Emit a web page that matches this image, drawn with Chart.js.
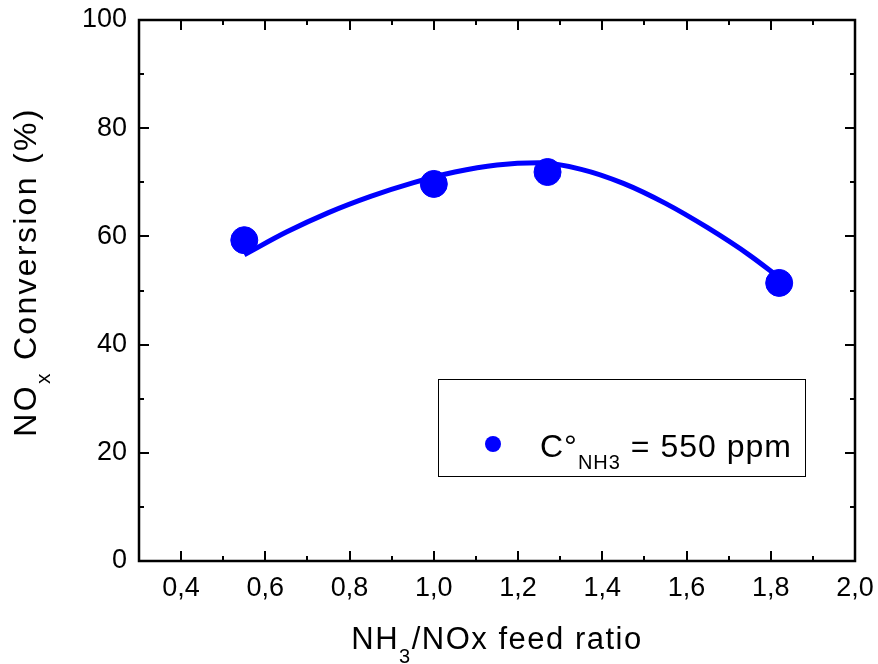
<!DOCTYPE html>
<html>
<head>
<meta charset="utf-8">
<script src="https://cdn.jsdelivr.net/npm/chart.js@4/dist/chart.umd.min.js"></script>
<style>
  html, body { margin: 0; padding: 0; background: #ffffff; }
  #wrap { width: 878px; height: 664px; }
</style>
</head>
<body>
<div id="wrap"><canvas id="chart" width="878" height="664"></canvas></div>
<script>
// Measured NOx conversion vs NH3/NOx feed ratio
const feedRatio = [0.55, 1.00, 1.27, 1.82];
const conversion = [59.3, 69.7, 71.9, 51.4];

// Trend curve through the measurements
const curveRatio = [0.55, 0.65, 0.75, 0.85, 0.95, 1.05, 1.15, 1.25, 1.35, 1.45, 1.55, 1.65, 1.75, 1.82];
const curveConversion = [56.6, 60.8, 64.4, 67.4, 69.9, 71.9, 73.2, 73.6, 72.4, 69.8, 66.1, 61.6, 56.5, 52.4];

// Axis ticks
const xTicks = [0.4, 0.6, 0.8, 1.0, 1.2, 1.4, 1.6, 1.8, 2.0];
const xMinorTicks = [0.5, 0.7, 0.9, 1.1, 1.3, 1.5, 1.7, 1.9];
const yTicks = [0, 20, 40, 60, 80, 100];
const yMinorTicks = [10, 30, 50, 70, 90];

const FONT = "'Liberation Sans', Arial, Helvetica, sans-serif";
const BLUE = '#0000ff';

// Draws a run of [text, font, baselineShift] pieces left to right
function drawRun(ctx, parts, x, y, spacing) {
  ctx.letterSpacing = spacing + 'px';
  parts.forEach(p => {
    ctx.font = p[1];
    ctx.fillText(p[0], x, y + p[2]);
    x += ctx.measureText(p[0]).width;
  });
  ctx.letterSpacing = '0px';
}
function runWidth(ctx, parts, spacing) {
  ctx.letterSpacing = spacing + 'px';
  let w = 0;
  parts.forEach(p => { ctx.font = p[1]; w += ctx.measureText(p[0]).width; });
  ctx.letterSpacing = '0px';
  return w;
}

// Frame, inward ticks, axis titles with subscripts, and the legend box
const framePlugin = {
  id: 'frame',
  afterDraw(chart) {
    const ctx = chart.ctx;
    const a = chart.chartArea;
    const xs = chart.scales.x, ys = chart.scales.y;
    ctx.save();
    ctx.strokeStyle = '#000';
    ctx.lineWidth = 2.5;
    ctx.strokeRect(a.left, a.top, a.right - a.left, a.bottom - a.top);

    ctx.lineWidth = 2;
    ctx.beginPath();
    const tickX = (vals, len) => {
      vals.forEach(v => {
        const px = Math.round(xs.getPixelForValue(v));
        ctx.moveTo(px, a.bottom); ctx.lineTo(px, a.bottom - len);
        ctx.moveTo(px, a.top); ctx.lineTo(px, a.top + len);
      });
    };
    const tickY = (vals, len) => {
      vals.forEach(v => {
        const py = Math.round(ys.getPixelForValue(v));
        ctx.moveTo(a.left, py); ctx.lineTo(a.left + len, py);
        ctx.moveTo(a.right, py); ctx.lineTo(a.right - len, py);
      });
    };
    tickX(xTicks, 10); tickX(xMinorTicks, 5);
    tickY(yTicks, 10); tickY(yMinorTicks, 5);
    ctx.stroke();

    ctx.fillStyle = '#000';
    ctx.textBaseline = 'alphabetic';
    ctx.textAlign = 'left';

    // x-axis title: NH3/NOx feed ratio
    {
      const big = '31px ' + FONT, small = '20px ' + FONT;
      const parts = [['NH', big, 0], ['3', small, 14], ['/NOx feed ratio', big, 0]];
      const w = runWidth(ctx, parts, 1.5);
      drawRun(ctx, parts, (a.left + a.right) / 2 - w / 2, 649, 1.5);
    }

    // y-axis title: NOx Conversion (%)
    {
      const big = '32px ' + FONT, small = '21px ' + FONT;
      const parts = [['NO', big, 0], ['x', small, 14], [' Conversion (%)', big, 0]];
      const w = runWidth(ctx, parts, 2.3);
      ctx.save();
      ctx.translate(36, 272);
      ctx.rotate(-Math.PI / 2);
      drawRun(ctx, parts, -w / 2, 0, 2.3);
      ctx.restore();
    }

    // legend box
    {
      const bx = 438, by = 379, bw = 367, bh = 97;
      ctx.lineWidth = 1;
      ctx.strokeStyle = '#000';
      ctx.strokeRect(bx + 0.5, by + 0.5, bw, bh);
      ctx.fillStyle = BLUE;
      ctx.beginPath();
      ctx.arc(bx + 55, by + 65, 8, 0, Math.PI * 2);
      ctx.fill();
      ctx.fillStyle = '#000';
      const lbig = '32px ' + FONT, lsmall = '20px ' + FONT;
      const parts = [['C°', lbig, 0], ['NH3', lsmall, 12], [' = 550 ppm', lbig, 0]];
      drawRun(ctx, parts, bx + 102, by + 78, 1);
    }
    ctx.restore();
  }
};

new Chart(document.getElementById('chart'), {
  type: 'scatter',
  data: {
    datasets: [
      {
        label: 'measured',
        data: feedRatio.map((x, i) => ({ x, y: conversion[i] })),
        backgroundColor: BLUE,
        borderColor: BLUE,
        pointRadius: 13.5,
        pointHoverRadius: 13.5,
        showLine: false,
        order: 0
      },
      {
        label: 'trend',
        data: curveRatio.map((x, i) => ({ x, y: curveConversion[i] })),
        borderColor: BLUE,
        borderWidth: 5,
        pointRadius: 0,
        showLine: true,
        cubicInterpolationMode: 'monotone',
        fill: false,
        order: 1
      }
    ]
  },
  options: {
    responsive: false,
    devicePixelRatio: 1,
    animation: false,
    events: [],
    layout: { padding: { left: 0, right: 23, top: 20, bottom: 0 } },
    plugins: { legend: { display: false }, tooltip: { enabled: false } },
    scales: {
      x: {
        type: 'linear',
        min: 0.3,
        max: 2.0,
        afterBuildTicks: s => { s.ticks = xTicks.map(v => ({ value: v })); },
        afterFit: s => { s.height = 103; s.paddingLeft = 0; s.paddingRight = 0; },
        grid: { display: false, drawTicks: false },
        border: { display: false },
        ticks: {
          color: '#000',
          padding: 11,
          font: { family: FONT, size: 27 },
          maxRotation: 0,
          callback: v => Number(v).toFixed(1).replace('.', ',')
        }
      },
      y: {
        type: 'linear',
        min: 0,
        max: 100,
        afterBuildTicks: s => { s.ticks = yTicks.map(v => ({ value: v })); },
        afterFit: s => { s.width = 139; s.paddingTop = 0; s.paddingBottom = 0; },
        grid: { display: false, drawTicks: false },
        border: { display: false },
        ticks: {
          color: '#000',
          padding: 12,
          font: { family: FONT, size: 27 },
          callback: v => String(v)
        }
      }
    }
  },
  plugins: [framePlugin]
});
</script>
</body>
</html>
